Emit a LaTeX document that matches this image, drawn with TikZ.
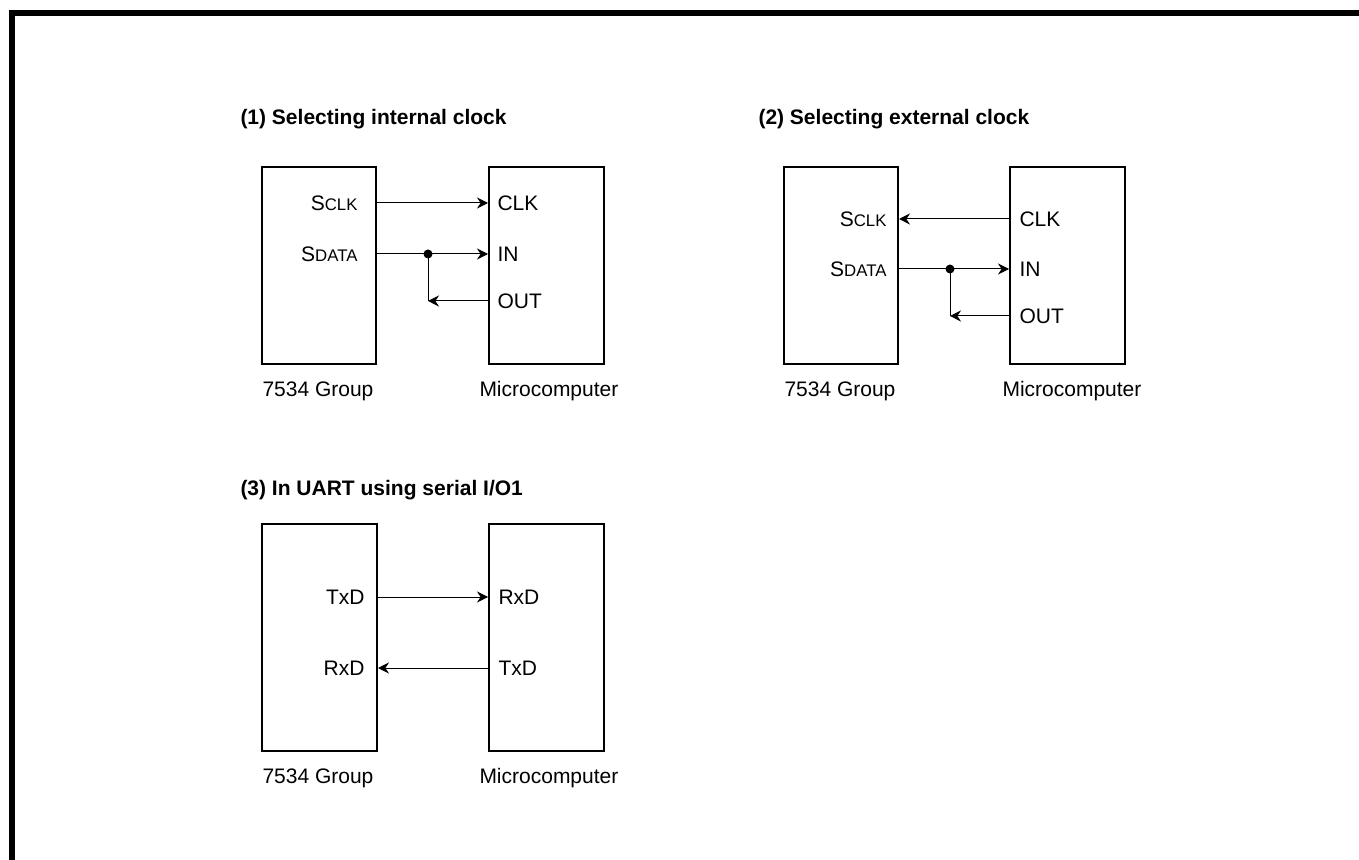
\documentclass[tikz,border=0pt]{standalone}
\usepackage{fontspec}
\setmainfont{Liberation Sans}
\usetikzlibrary{arrows.meta}
\tikzstyle{chip}=[rectangle,draw=black,line width=1pt,minimum width=57pt,minimum height=98.5pt,inner sep=0pt]
\tikzstyle{pinl}=[inner sep=0pt,text height=7.5pt,text depth=0pt,anchor=east]
\tikzstyle{pinr}=[inner sep=0pt,text height=7.5pt,text depth=0pt,anchor=west]
\tikzstyle{partname}=[inner sep=0pt,anchor=base west]
\tikzstyle{ttl}=[inner sep=0pt,anchor=base west,font=\fontsize{10.5}{12.6}\selectfont\bfseries]
\tikzstyle{jdot}=[circle,fill=black,inner sep=0pt,minimum size=4.5pt]
\tikzstyle{wire}=[line width=0.5pt,>={Stealth[length=5.5pt,width=5.5pt,inset=1.8pt]}]
\newcommand{\smc}[1]{{\fontsize{8.4}{9}\selectfont #1}}

\begin{document}
\begin{tikzpicture}[x=0.5pt,y=-0.5pt,wire,every node/.style={font=\fontsize{10.5}{12.6}\selectfont}]
\useasboundingbox (0,0) rectangle (1359,860);
\draw[line width=3pt] (12,860) -- (12,13) -- (1359,13);

\node[ttl] (t1) at (240,125) {(1) Selecting internal clock};
\node[chip] (g1) at (319,265.5) {};
\node[chip,minimum width=57.5pt] (m1) at (546.5,265.5) {};
\node[pinl] (g1sclk) at (358,203) {S\smc{CLK}};
\node[pinl] (g1sdata) at (358,254) {S\smc{DATA}};
\node[pinr] (m1clk) at (497,203) {CLK};
\node[pinr] (m1in) at (497,254) {IN};
\node[pinr] (m1out) at (497,301) {OUT};
\node[jdot] (j1) at (428,254) {};
\node[partname] (g1name) at (262,397) {7534 Group};
\node[partname] (m1name) at (479,397) {Microcomputer};
\draw[->](g1.east |- g1sclk)--(m1.west |- m1clk);
\draw[->](g1.east |- g1sdata)--(m1.west |- m1in);
\draw(j1.center)--(j1 |- m1out);\draw[->](m1.west |- m1out)--(j1 |- m1out);

\node[ttl] (t2) at (758,125) {(2) Selecting external clock};
\node[chip] (g2) at (841,265.5) {};
\node[chip,minimum width=57.5pt] (m2) at (1067.5,265.5) {};
\node[pinl] (g2sclk) at (887,219) {S\smc{CLK}};
\node[pinl] (g2sdata) at (887,269) {S\smc{DATA}};
\node[pinr] (m2clk) at (1019,219) {CLK};
\node[pinr] (m2in) at (1019,269) {IN};
\node[pinr] (m2out) at (1019,316) {OUT};
\node[jdot] (j2) at (950,269) {};
\node[partname] (g2name) at (784,397) {7534 Group};
\node[partname] (m2name) at (1002,397) {Microcomputer};
\draw[->](m2.west |- m2clk)--(g2.east |- g2sclk);
\draw[->](g2.east |- g2sdata)--(m2.west |- m2in);
\draw(j2.center)--(j2 |- m2out);\draw[->](m2.west |- m2out)--(j2 |- m2out);

\node[ttl] (t3) at (240,495) {(3) In UART using serial I/O1};
\node[chip,minimum height=113.5pt,minimum width=57.5pt] (g3) at (319.5,637.5) {};
\node[chip,minimum height=113.5pt,minimum width=57.5pt] (m3) at (546.5,637.5) {};
\node[pinl] (g3txd) at (365,597) {TxD};
\node[pinl] (g3rxd) at (365,668) {RxD};
\node[pinr] (m3rxd) at (498,597) {RxD};
\node[pinr] (m3txd) at (498,668) {TxD};
\node[partname] (g3name) at (262,783) {7534 Group};
\node[partname] (m3name) at (479,783) {Microcomputer};
\draw[->](g3.east |- g3txd)--(m3.west |- m3rxd);
\draw[->](m3.west |- m3txd)--(g3.east |- g3rxd);
\end{tikzpicture}
\end{document}
